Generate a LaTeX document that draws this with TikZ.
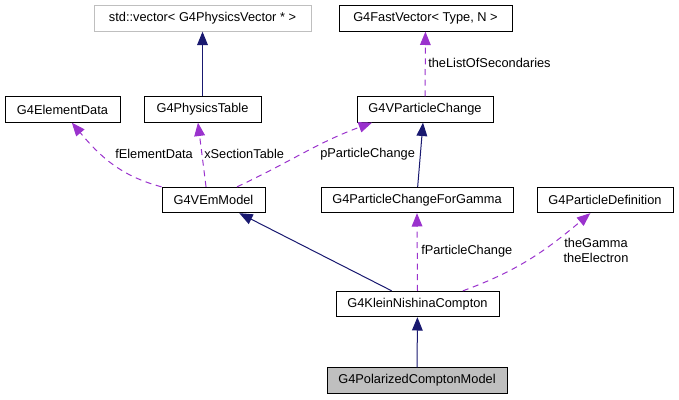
\documentclass[tikz,border=0pt]{standalone}
\usepackage{fontspec}
\setmainfont{Liberation Sans}
\usetikzlibrary{arrows.meta}
\definecolor{dxNavy}{RGB}{25,25,112}
\definecolor{dxOrchid}{RGB}{154,50,205}
\definecolor{dxGrey}{RGB}{191,191,191}

\begin{document}
\begin{tikzpicture}[x=0.75pt,y=-0.75pt,font=\fontsize{9.6}{11.5}\selectfont,
        >={Stealth[length=10pt,width=8pt,inset=0pt]},
        box/.style={draw=black,line width=0.75pt,minimum height=19pt,inner sep=1pt},
        inh/.style={->,dxNavy,line width=0.75pt},
        use/.style={->,dxOrchid,line width=0.75pt,dash pattern=on 4.5pt off 3.5pt},
        lbl/.style={anchor=west,inner sep=0pt,align=center}]
        \useasboundingbox (0,0) rectangle (679,400);
        % classes
        \node[box,draw=dxGrey,minimum width=162.75pt] (vec) at (202.5,18.5)
          {std::vector< G4PhysicsVector * >};
        \foreach \nm/\x/\y/\w/\txt in {fast/425.5/18.5/129.75/{G4FastVector< Type, N >},
            eld/62.5/109.5/86.25/G4ElementData,pht/202.5/109.5/87.75/G4PhysicsTable,
            vpc/425/109.5/102/G4VParticleChange,vem/213.5/200/77.25/G4VEmModel,
            pcfg/417/200/144/G4ParticleChangeForGamma,pdef/605/200/102/G4ParticleDefinition,
            knc/417.5/304/122.25/G4KleinNishinaCompton}{
          \node[box,minimum width=\w pt] (\nm) at (\x,\y) {\txt};
        }
        \node[box,fill=dxGrey,minimum width=135pt] (pol) at (417,380.5)
          {G4PolarizedComptonModel};
        % inheritance
        \draw[inh] (pht) -- (vec);
        \draw[inh] ([xshift=0.5pt]pcfg.north) -- ([xshift=-1.5pt]vpc.south);
        \draw[inh] (knc) -- (vem);
        \draw[inh] (pol) -- (knc);
        % usage
        \draw[use] (vpc) -- (fast);
        \draw[use] (vem.north west) to[out=165,in=-50] ([xshift=7pt]eld.south);
        \draw[use] ([xshift=-5.6pt]vem.north) -- ([xshift=-3.4pt]pht.south);
        \draw[use] ([xshift=17.6pt]vem.north) to[out=25,in=-160] ([xshift=-39.75pt]vpc.south);
        \draw[use] (knc.north) -- (pcfg.south);
        \draw[use] ([xshift=34pt]knc.north) to[out=20,in=-140] ([xshift=-11pt]pdef.south);
        % labels
        \node[lbl] (l1) at (428,63) {theListOfSecondaries};
        \node[lbl] (l2) at (115,154) {fElementData};
        \node[lbl] (l3) at (204,154) {xSectionTable};
        \node[lbl] (l4) at (320,154) {pParticleChange};
        \node[lbl] (l5) at (421,251) {fParticleChange};
        \node[lbl,anchor=center] (l6) at (596,250.5) {theGamma\\theElectron};
      \end{tikzpicture}
\end{document}
